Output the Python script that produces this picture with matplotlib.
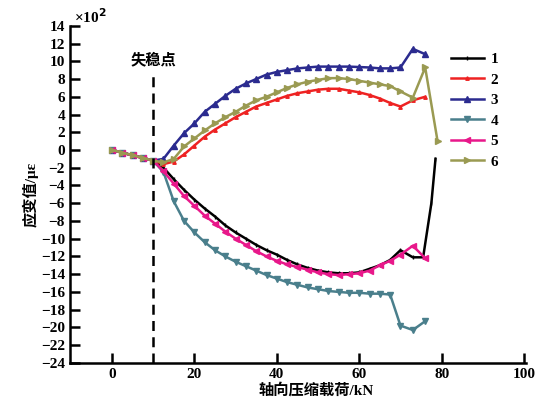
import matplotlib
matplotlib.use('Agg')
import matplotlib.pyplot as plt

plt.rcParams['font.family'] = ['Liberation Serif', 'Noto Sans CJK SC', 'DejaVu Sans']
plt.rcParams['font.weight'] = 'bold'
plt.rcParams['axes.unicode_minus'] = True

# load (kN) and strain (x10^2 micro-strain)
x_common = [0, 2.5, 5, 7.5, 10, 12.5, 15, 17.5, 20, 22.5, 25, 27.5, 30, 32.5, 35,
            37.5, 40, 42.5, 45, 47.5, 50, 52.5, 55, 57.5, 60, 62.5, 65, 67.5, 70, 73, 76]
x_s1 = x_common[:-1] + [75.5, 77.5, 78.5]
x_s6 = x_common + [79]

s1 = [0, -0.3, -0.6, -0.9, -1.2, -2.0, -3.3, -4.5, -5.6, -6.6, -7.5, -8.5, -9.3, -10.0, -10.7,
      -11.3, -11.8, -12.4, -12.9, -13.3, -13.6, -13.8, -13.9, -13.9, -13.8, -13.4, -13.0, -12.4,
      -11.3, -12.1, -12.1, -6.0, -1.0]
s2 = [0, -0.3, -0.6, -0.9, -1.2, -1.6, -1.3, -0.5, 0.5, 1.5, 2.3, 3.0, 3.7, 4.3, 4.9,
      5.3, 5.7, 6.1, 6.4, 6.6, 6.8, 6.9, 6.9, 6.7, 6.5, 6.2, 5.8, 5.3, 4.9, 5.6, 6.0]
s3 = [0, -0.3, -0.6, -0.9, -1.2, -1.0, 0.5, 1.9, 3.0, 4.3, 5.2, 6.1, 6.9, 7.5, 8.0,
      8.5, 8.8, 9.0, 9.2, 9.3, 9.4, 9.4, 9.4, 9.4, 9.35, 9.3, 9.2, 9.2, 9.3, 11.4, 10.8]
s4 = [0, -0.3, -0.6, -0.9, -1.2, -2.5, -5.8, -8.0, -9.3, -10.4, -11.3, -12.0, -12.6, -13.1, -13.6,
      -14.1, -14.5, -14.9, -15.2, -15.5, -15.7, -15.9, -16.0, -16.1, -16.1, -16.2, -16.2, -16.3,
      -19.8, -20.3, -19.3]
s5 = [0, -0.3, -0.6, -0.9, -1.2, -2.4, -3.8, -5.2, -6.3, -7.4, -8.3, -9.2, -10.0, -10.7, -11.4,
      -12.0, -12.5, -12.9, -13.2, -13.5, -13.8, -14.0, -14.1, -14.0, -13.9, -13.6, -13.0, -12.5,
      -11.8, -10.8, -12.2]
s6 = [0, -0.3, -0.6, -0.9, -1.2, -1.4, -1.0, 0.4, 1.3, 2.2, 3.0, 3.7, 4.3, 5.0, 5.6,
      6.0, 6.5, 7.0, 7.4, 7.7, 7.9, 8.1, 8.1, 8.0, 7.8, 7.6, 7.4, 7.2, 6.6, 5.9, 9.3, 1.0]

labels = ['1', '2', '3', '4', '5', '6']
yticks = list(range(-24, 16, 2))
xticks = [0, 20, 40, 60, 80, 100]

fig = plt.figure(figsize=(5.38, 3.97), dpi=100)
ax = fig.add_axes([0.130, 0.086, 0.848, 0.849])

ax.plot(x_s1, s1, color='black', lw=1.8, marker='|', ms=3, label=labels[0])
ax.plot(x_common, s2, color='#ee2222', lw=1.8, marker='^', ms=2.5, label=labels[1])
ax.plot(x_common, s3, color='#2b2b8f', lw=1.8, marker='^', ms=4.5, label=labels[2])
ax.plot(x_common, s4, color='#4a7f8c', lw=1.8, marker='v', ms=4.5, label=labels[3])
ax.plot(x_common, s5, color='#e8188a', lw=1.8, marker='<', ms=4.5, label=labels[4])
ax.plot(x_s6, s6, color='#9a9a52', lw=1.8, marker='>', ms=4.5, label=labels[5])

# instability point
ax.plot([10, 10], [-24, 8.5], color='black', lw=1.8, ls=(0, (4, 2.5)))
ax.text(10, 9.3, '失稳点', ha='center', va='bottom', fontsize=11, fontweight='bold')

ax.set_xlim(-10.2, 100.5)
ax.set_ylim(-24, 14)
ax.set_xticks(xticks)
ax.set_yticks(yticks)
ax.tick_params(direction='in', length=7, width=1.8, labelsize=11)
ax.spines['top'].set_visible(False)
ax.spines['right'].set_visible(False)
ax.spines['left'].set_linewidth(1.8)
ax.spines['bottom'].set_linewidth(1.8)

ax.set_xlabel('轴向压缩载荷/kN', fontsize=11, fontweight='bold', labelpad=0)
ax.xaxis.set_label_coords(0.54, -0.06)
ax.set_ylabel('应变值/με', fontsize=11, fontweight='bold', labelpad=2)
fig.text(0.137, 0.958, '×10$^{\\mathbf{2}}$', fontsize=11, fontweight='bold', va='center')

ax.legend(loc='upper left', bbox_to_anchor=(0.812, 0.903), bbox_transform=fig.transFigure,
          frameon=False, handlelength=2.2, labelspacing=0.45, handletextpad=0.4,
          prop={'size': 11, 'weight': 'bold'})

fig.savefig('out.png', dpi=100)
